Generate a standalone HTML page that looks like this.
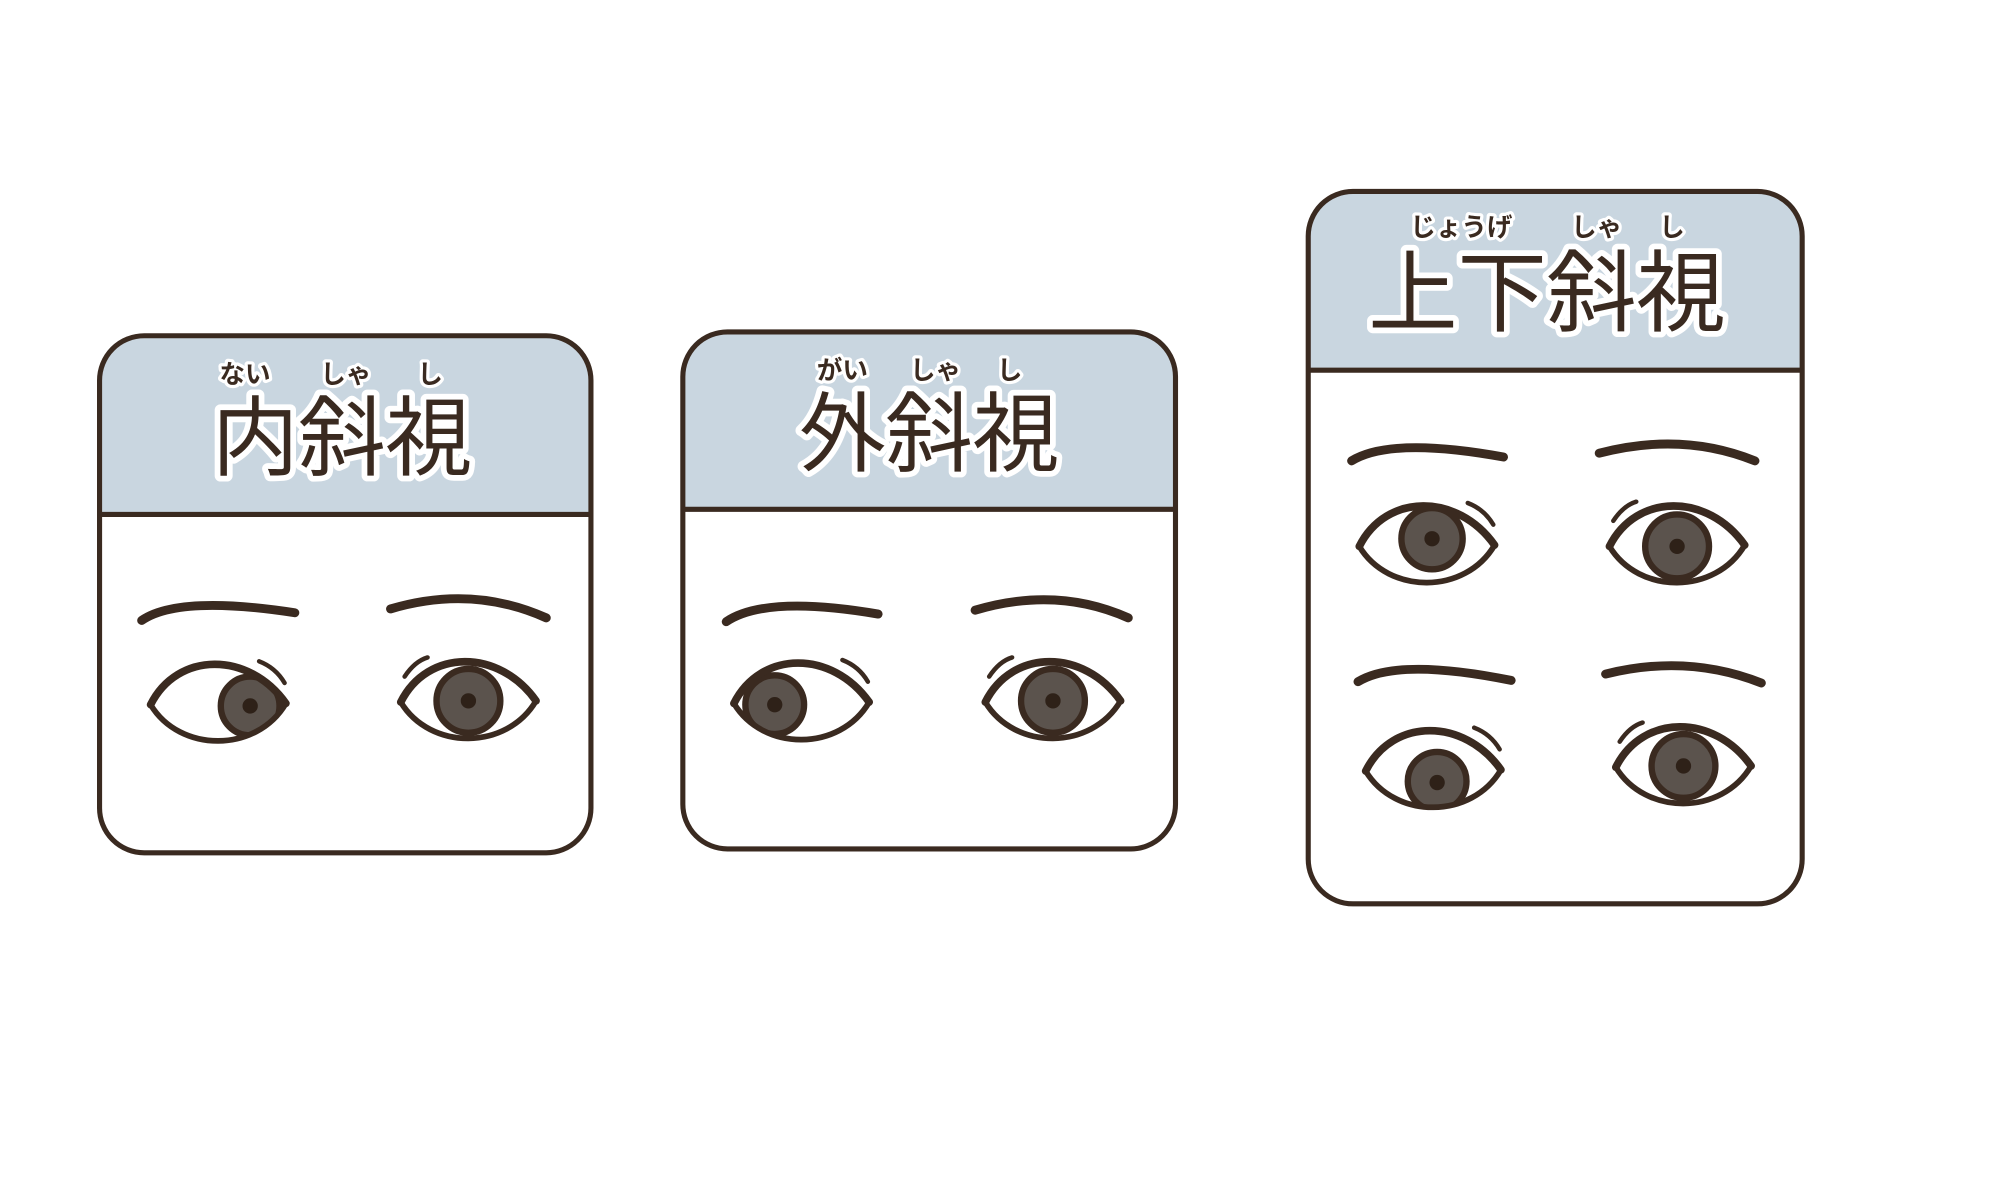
<!DOCTYPE html>
<html><head><meta charset="utf-8"><style>
html,body{margin:0;padding:0;background:#fff;}
svg{display:block;}
text{font-family:"Liberation Sans","Noto Sans CJK JP",sans-serif;fill:#3a2a20;paint-order:stroke;stroke:#fff;stroke-linejoin:round;}
</style></head><body>
<svg width="2000" height="1200" viewBox="0 0 1567 940" preserveAspectRatio="none" xmlns="http://www.w3.org/2000/svg">
<defs>
<path id="eyeShape" d="M-53,0 C-32,-42 24,-42 53,-1 C30,38 -30,38 -53,0 Z"/>
<clipPath id="ec"><use href="#eyeShape"/></clipPath>
</defs>
<g fill="none" stroke="#3a2a20" stroke-width="4">
<path d="M78,403 V298 Q78,263 113,263 H428 Q463,263 463,298 V403 Z" fill="#c9d6e0" stroke="none"/>
<rect x="78" y="263" width="385" height="405" rx="35"/>
<line x1="78" y1="403" x2="463" y2="403"/>
<path d="M535,399 V295 Q535,260 570,260 H886 Q921,260 921,295 V399 Z" fill="#c9d6e0" stroke="none"/>
<rect x="535" y="260" width="386" height="405" rx="35"/>
<line x1="535" y1="399" x2="921" y2="399"/>
<path d="M1025,290 V185 Q1025,150 1060,150 H1377 Q1412,150 1412,185 V290 Z" fill="#c9d6e0" stroke="none"/>
<rect x="1025" y="150" width="387" height="558" rx="35"/>
<line x1="1025" y1="290" x2="1412" y2="290"/>
</g>

<g text-anchor="middle">
<text x="268" y="367" font-size="68" font-weight="normal" stroke-width="9">内斜視</text>
<text x="192" y="300" font-size="20" font-weight="bold" stroke-width="5">ない</text>
<text x="271" y="300" font-size="20" font-weight="bold" stroke-width="5">しゃ</text>
<text x="337" y="300" font-size="20" font-weight="bold" stroke-width="5">し</text>

<text x="728" y="364" font-size="68" font-weight="normal" stroke-width="9">外斜視</text>
<text x="660" y="297" font-size="20" font-weight="bold" stroke-width="5">がい</text>
<text x="733" y="297" font-size="20" font-weight="bold" stroke-width="5">しゃ</text>
<text x="791" y="297" font-size="20" font-weight="bold" stroke-width="5">し</text>

<text x="1212" y="254" font-size="70" font-weight="normal" stroke-width="9">上下斜視</text>
<text x="1145" y="185" font-size="20" font-weight="bold" stroke-width="5">じょうげ</text>
<text x="1251" y="185" font-size="20" font-weight="bold" stroke-width="5">しゃ</text>
<text x="1310" y="185" font-size="20" font-weight="bold" stroke-width="5">し</text>
</g>

<g fill="none" stroke="#3a2a20" stroke-width="7" stroke-linecap="round">
<path d="M111,486 Q140,466 231,480"/>
<path d="M306,477 Q370,458 428,484"/>
<path d="M569,487 Q600,466 688,481"/>
<path d="M764,478 Q828,459 884,484"/>
<path d="M1059,361 Q1090,342 1178,358"/>
<path d="M1253,355 Q1318,338 1375,361"/>
<path d="M1064,534 Q1095,515 1184,533"/>
<path d="M1258,528 Q1322,512 1380,535"/>
</g>

<g stroke="#3a2a20" stroke-linecap="round">
<!-- eye template: translate to center, iris offset dx,dy -->
<g transform="translate(171,552)">
<use href="#eyeShape" fill="#fff"/>
<g clip-path="url(#ec)"><circle cx="25" cy="1" r="23" fill="#5b534d" stroke-width="5"/></g>
<circle cx="25" cy="1" r="6" fill="#2e2118" stroke="none"/>
<use href="#eyeShape" fill="none" stroke-width="4.5"/>
<path d="M-53,0 C-32,-42 24,-42 53,-1" fill="none" stroke-width="6"/>
<path d="M32,-34 Q45,-29 52,-17" fill="none" stroke-width="3.5"/>
</g>
<g transform="translate(367,550)">
<use href="#eyeShape" fill="#fff"/>
<g clip-path="url(#ec)"><circle cx="0" cy="-1" r="25" fill="#5b534d" stroke-width="5"/></g>
<circle cx="0" cy="-1" r="6" fill="#2e2118" stroke="none"/>
<use href="#eyeShape" fill="none" stroke-width="4.5"/>
<path d="M-53,0 C-32,-42 24,-42 53,-1" fill="none" stroke-width="6"/>
<path d="M-50,-20 Q-42,-32 -32,-35" fill="none" stroke-width="3.5"/>
</g>

<g transform="translate(628,551)">
<use href="#eyeShape" fill="#fff"/>
<g clip-path="url(#ec)"><circle cx="-21" cy="1" r="23" fill="#5b534d" stroke-width="5"/></g>
<circle cx="-21" cy="1" r="6" fill="#2e2118" stroke="none"/>
<use href="#eyeShape" fill="none" stroke-width="4.5"/>
<path d="M-53,0 C-32,-42 24,-42 53,-1" fill="none" stroke-width="6"/>
<path d="M32,-34 Q45,-29 52,-17" fill="none" stroke-width="3.5"/>
</g>
<g transform="translate(825,550)">
<use href="#eyeShape" fill="#fff"/>
<g clip-path="url(#ec)"><circle cx="0" cy="-1" r="25" fill="#5b534d" stroke-width="5"/></g>
<circle cx="0" cy="-1" r="6" fill="#2e2118" stroke="none"/>
<use href="#eyeShape" fill="none" stroke-width="4.5"/>
<path d="M-53,0 C-32,-42 24,-42 53,-1" fill="none" stroke-width="6"/>
<path d="M-50,-20 Q-42,-32 -32,-35" fill="none" stroke-width="3.5"/>
</g>

<g transform="translate(1118,428)">
<use href="#eyeShape" fill="#fff"/>
<g clip-path="url(#ec)"><circle cx="4" cy="-6" r="24" fill="#5b534d" stroke-width="5"/></g>
<circle cx="4" cy="-6" r="6" fill="#2e2118" stroke="none"/>
<use href="#eyeShape" fill="none" stroke-width="4.5"/>
<path d="M-53,0 C-32,-42 24,-42 53,-1" fill="none" stroke-width="6"/>
<path d="M32,-34 Q45,-29 52,-17" fill="none" stroke-width="3.5"/>
</g>
<g transform="translate(1314,428)">
<use href="#eyeShape" fill="#fff"/>
<g clip-path="url(#ec)"><circle cx="0" cy="0" r="25" fill="#5b534d" stroke-width="5"/></g>
<circle cx="0" cy="0" r="6" fill="#2e2118" stroke="none"/>
<use href="#eyeShape" fill="none" stroke-width="4.5"/>
<path d="M-53,0 C-32,-42 24,-42 53,-1" fill="none" stroke-width="6"/>
<path d="M-50,-20 Q-42,-32 -32,-35" fill="none" stroke-width="3.5"/>
</g>

<g transform="translate(1123,604)">
<use href="#eyeShape" fill="#fff"/>
<g clip-path="url(#ec)"><circle cx="3" cy="8" r="23" fill="#5b534d" stroke-width="5"/></g>
<circle cx="3" cy="9" r="6" fill="#2e2118" stroke="none"/>
<use href="#eyeShape" fill="none" stroke-width="4.5"/>
<path d="M-53,0 C-32,-42 24,-42 53,-1" fill="none" stroke-width="6"/>
<path d="M32,-34 Q45,-29 52,-17" fill="none" stroke-width="3.5"/>
</g>
<g transform="translate(1319,601)">
<use href="#eyeShape" fill="#fff"/>
<g clip-path="url(#ec)"><circle cx="0" cy="-1" r="25" fill="#5b534d" stroke-width="5"/></g>
<circle cx="0" cy="-1" r="6" fill="#2e2118" stroke="none"/>
<use href="#eyeShape" fill="none" stroke-width="4.5"/>
<path d="M-53,0 C-32,-42 24,-42 53,-1" fill="none" stroke-width="6"/>
<path d="M-50,-20 Q-42,-32 -32,-35" fill="none" stroke-width="3.5"/>
</g>
</g>
</svg>
</body></html>
